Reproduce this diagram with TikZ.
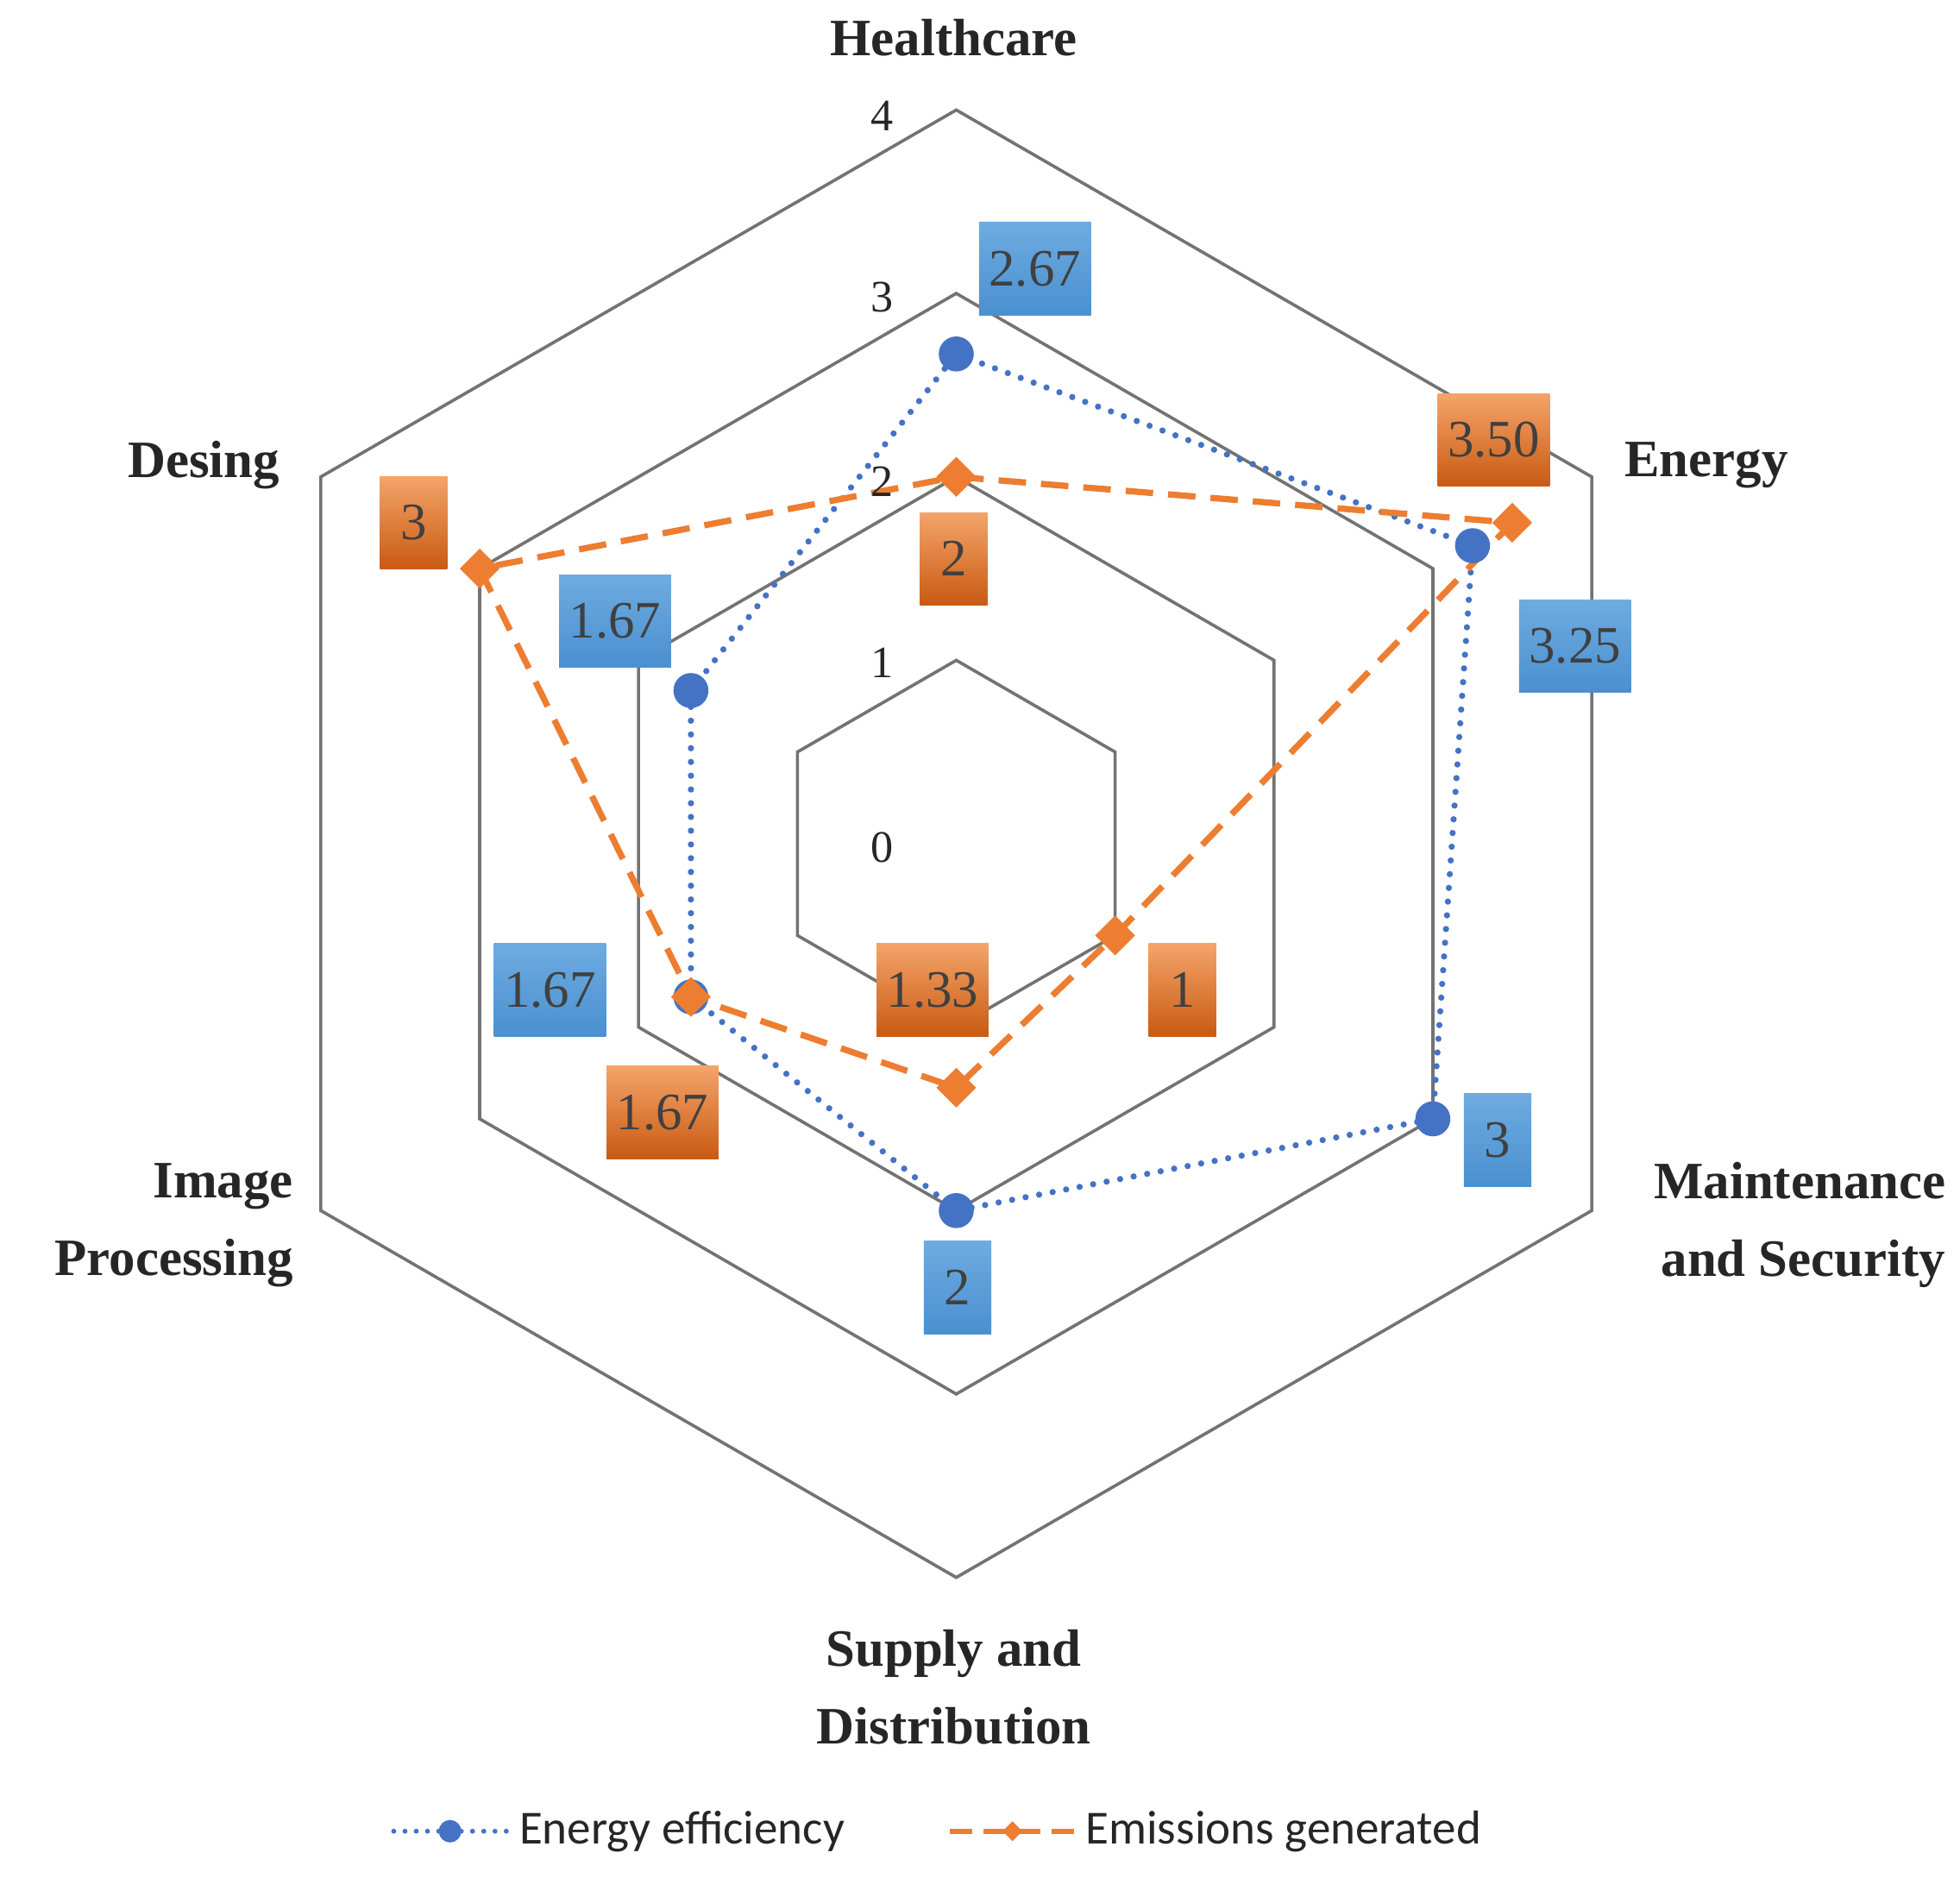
\documentclass[tikz,border=0pt]{standalone}
\usepackage{fontspec}
\setmainfont{Liberation Serif}
\newfontfamily\legf{Carlito}
\usetikzlibrary{shapes.geometric}
\definecolor{eblue}{HTML}{4472C4}
\definecolor{eorange}{HTML}{ED7D31}
\definecolor{bTop}{HTML}{6EABE0}
\definecolor{bBot}{HTML}{4A90D0}
\definecolor{oTop}{HTML}{F4A46A}
\definecolor{oBot}{HTML}{C95A12}
\begin{document}
\begin{tikzpicture}[x=1pt,y=1pt,
 ring/.style={draw=black!55,line width=2.5pt},
 eff/.style={draw=eblue,line width=5pt,dash pattern=on 0pt off 11pt,line cap=round},
 emi/.style={draw=eorange,line width=5pt,dash pattern=on 22pt off 12pt},
 effm/.style={circle,fill=eblue,minimum size=28pt,inner sep=0pt},
 emim/.style={diamond,fill=eorange,minimum size=32pt,inner sep=0pt},
 bl/.style={top color=bTop,bottom color=bBot,minimum height=74pt,minimum width=54pt,inner sep=8pt,font=\fontsize{42}{44}\selectfont,text=black!75},
 og/.style={top color=oTop,bottom color=oBot,minimum height=74pt,minimum width=54pt,inner sep=8pt,font=\fontsize{42}{44}\selectfont,text=black!75},
 cat/.style={font=\fontsize{42}{62}\selectfont\bfseries,align=center,text=black!85},
 ax/.style={font=\fontsize{36}{38}\selectfont,text=black!85}]
\useasboundingbox (0,0) rectangle (1568,1502);
\begin{scope}[shift={(765,827)}]
\foreach \R in {146.75,293.5,440.25,587}
  \draw[ring] (90:\R)--(30:\R)--(-30:\R)--(-90:\R)--(-150:\R)--(150:\R)--cycle;
\coordinate (e1) at (90:391.8);
\coordinate (e2) at (30:476.9);
\coordinate (e3) at (-30:440.25);
\coordinate (e4) at (-90:293.5);
\coordinate (e5) at (-150:245.1);
\coordinate (e6) at (150:245.1);
\coordinate (m1) at (90:293.5);
\coordinate (m2) at (30:513.6);
\coordinate (m3) at (-30:146.75);
\coordinate (m4) at (-90:195.2);
\coordinate (m5) at (-150:245.1);
\coordinate (m6) at (150:440.25);
\end{scope}
\draw[eff] (e1)--(e2)--(e3)--(e4)--(e5)--(e6)--cycle;
\draw[emi] (m1)--(m2)--(m3)--(m4)--(m5)--(m6)--cycle;
\foreach \i in {1,...,6} \node[effm] (pe\i) at (e\i) {};
\foreach \i in {1,...,6} \node[emim] (pm\i) at (m\i) {};
% axis values
\node[ax] (a0) at (706,824) {0};
\node[ax] (a1) at (706,972) {1};
\node[ax] (a2) at (706,1117) {2};
\node[ax] (a3) at (706,1264) {3};
\node[ax] (a4) at (706,1409) {4};
% data labels
\node[bl] (l1) at (828,1287) {2.67};
\node[og] (l2) at (1195,1150) {3.50};
\node[bl] (l3) at (1260,985) {3.25};
\node[og] (l4) at (763,1055) {2};
\node[og] (l5) at (331,1084) {3};
\node[bl] (l6) at (492,1005) {1.67};
\node[bl] (l7) at (440,710) {1.67};
\node[og] (l8) at (746,710) {1.33};
\node[og] (l9) at (946,710) {1};
\node[og] (l10) at (530,612) {1.67};
\node[bl] (l11) at (1198,590) {3};
\node[bl] (l12) at (766,472) {2};
% categories
\node[cat] (c1) at (763,1472) {Healthcare};
\node[cat] (c2) at (1365,1130) {Energy};
\node[cat] (c3) at (163,1130) {Desing};
\node[cat,align=right,anchor=east] (c4) at (1560,522) {Maintenance\\and Security};
\node[cat,align=right,anchor=east] (c5) at (238,522) {Image\\Processing};
\node[cat] (c6) at (763,152) {Supply and\\Distribution};
% legend
\coordinate (la) at (315,37); \coordinate (lb) at (405,37);
\coordinate (lc) at (760,37); \coordinate (ld) at (860,37);
\draw[eff,line width=4pt,dash pattern=on 0pt off 9pt] (la)--(lb);
\node[effm,minimum size=18pt] (lm1) at (360,37) {};
\draw[emi,line width=4pt,dash pattern=on 18pt off 9pt] (lc)--(ld);
\node[emim,minimum size=16pt] (lm2) at (810,37) {};
\node[anchor=west,font=\legf\fontsize{38}{40}\selectfont,text=black!85] (t1) at (412,37) {Energy efficiency};
\node[anchor=west,font=\legf\fontsize{38}{40}\selectfont,text=black!85] (t2) at (865,37) {Emissions generated};
\end{tikzpicture}
\end{document}
